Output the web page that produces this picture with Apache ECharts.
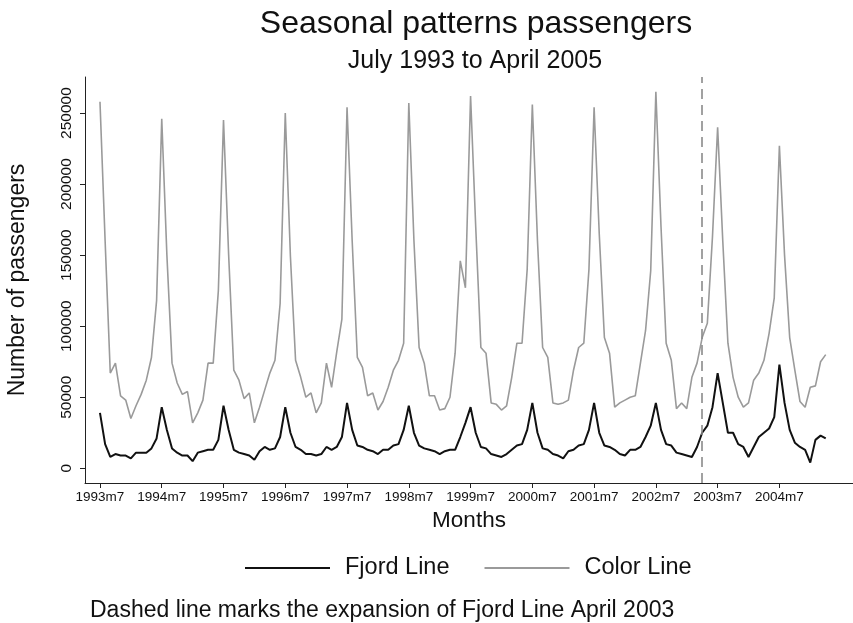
<!DOCTYPE html>
<html>
<head>
<meta charset="utf-8">
<script src="https://cdn.jsdelivr.net/npm/echarts@6/dist/echarts.min.js"></script>
<style>
html,body{margin:0;padding:0;background:#fff;}
#chart{width:853px;height:623px;}
</style>
</head>
<body>
<div id="chart"></div>
<script>
// Monthly series, July 1993 (index 0) to April 2005 (index 141), in thousands of passengers
const colorLine = [
  258,160,67,74,51,48,35,44,52,62,78,118,
  246,150,74,60,52,54,32,39,48,74,74,125,
  245,150,69,62,49,53,32,43,55,67,76,116,
  250,149,76,64,50,53,39,46,74,57,82,105,
  254,160,78,71,51,53,41,47,57,69,76,88,
  257,160,85,74,51,51,41,42,50,81,146,127,
  262,170,85,81,46,45,41,44,64,88,88,140,
  256,160,85,78,46,45,46,48,69,85,88,140,
  254,165,92,81,43,46,48,50,51,74,97,139,
  265,170,88,76,42,46,42,64,74,92,102,163,
  240,160,88,64,50,43,46,62,67,76,95,120,
  227,150,92,69,47,43,57,58,75,80
];
const fjordLine = [
  39,17,8,10,9,9,7,11,11,11,14,21,
  43,27,14,11,9,9,5,11,12,13,13,20,
  44,27,13,11,10,9,6,12,15,13,14,22,
  43,25,15,13,10,10,9,10,15,13,15,22,
  46,27,16,15,13,12,10,13,13,16,17,27,
  44,25,16,14,13,12,10,12,13,13,22,32,
  43,25,15,14,10,9,8,10,13,16,17,27,
  46,25,14,13,10,9,7,12,13,16,17,27,
  46,25,16,15,13,10,9,13,13,15,22,30,
  46,27,17,16,11,10,9,8,15,25,30,43,
  67,46,25,25,17,15,8,15,22,25,28,36,
  73,46,27,18,15,13,4,20,23,21
];
const tickLabels = ['1993m7','1994m7','1995m7','1996m7','1997m7','1998m7','1999m7','2000m7','2001m7','2002m7','2003m7','2004m7'];
const yTicks = [0,50000,100000,150000,200000,250000];
const expansionMonth = '2003m4';

// month names for each index
const months = [];
for (let i = 0; i < colorLine.length; i++) {
  const m = 7 + i;
  const y = 1993 + Math.floor((m - 1) / 12);
  const mm = ((m - 1) % 12) + 1;
  months.push(y + 'm' + mm);
}
const tickIdx = tickLabels.map(l => months.indexOf(l));
const expIdx = months.indexOf(expansionMonth);

const fjordData = fjordLine.map((v, i) => [i, v * 1000]);
const colorData = colorLine.map((v, i) => [i, v * 1000]);

const FONT = 'Liberation Sans, Arial, Helvetica, sans-serif';
const chart = echarts.init(document.getElementById('chart'), null, {renderer: 'canvas'});
chart.setOption({
  backgroundColor: '#fff',
  animation: false,
  title: [
    {text: 'Seasonal patterns passengers', left: 471, top: 3, textAlign: 'center',
     textStyle: {fontFamily: FONT, fontSize: 32, fontWeight: 'normal', color: '#111'}},
    {text: 'July 1993 to April 2005', left: 470, top: 44, textAlign: 'center',
     textStyle: {fontFamily: FONT, fontSize: 25, fontWeight: 'normal', color: '#111'}},
    {text: 'Dashed line marks the expansion of Fjord Line April 2003', left: 85, top: 594,
     textStyle: {fontFamily: FONT, fontSize: 23, fontWeight: 'normal', color: '#111'}}
  ],
  legend: {
    left: 240, top: 551, itemWidth: 85, itemHeight: 2, itemGap: 35, icon: 'rect',
    textStyle: {fontFamily: FONT, fontSize: 23.5, color: '#111', padding: [0, 0, 0, 10]},
    data: [
      {name: 'Fjord Line', itemStyle: {color: '#111'}},
      {name: 'Color Line', itemStyle: {color: '#9a9a9a'}}
    ]
  },
  grid: {left: 85, right: 0, top: 77, bottom: 140, containLabel: false, outerBoundsMode: 'none'},
  xAxis: {
    type: 'value', min: -2.91, max: 146.3,
    name: 'Months', nameLocation: 'middle', nameGap: 24,
    nameTextStyle: {fontFamily: FONT, fontSize: 22.5, color: '#111'},
    axisLine: {show: true, onZero: false, lineStyle: {color: '#222', width: 1}},
    axisTick: {show: true, length: 5, customValues: tickIdx, lineStyle: {color: '#222'}},
    axisLabel: {customValues: tickIdx, margin: 7, fontFamily: FONT, fontSize: 13.5, color: '#111',
      formatter: v => months[v] || ''},
    splitLine: {show: false}
  },
  yAxis: {
    type: 'value', min: -10350, max: 275350,
    name: 'Number of passengers', nameLocation: 'middle', nameGap: 56, nameRotate: 90,
    nameTextStyle: {fontFamily: FONT, fontSize: 23, color: '#111'},
    axisLine: {show: true, onZero: false, lineStyle: {color: '#222', width: 1}},
    axisTick: {show: true, length: 5, customValues: yTicks, lineStyle: {color: '#222'}},
    axisLabel: {customValues: yTicks, rotate: 90, margin: 10, fontFamily: FONT, fontSize: 15.5, color: '#111',
      formatter: v => String(v)},
    splitLine: {show: false}
  },
  series: [
    {name: 'Fjord Line', type: 'line', data: fjordData, symbol: 'none', z: 3,
     lineStyle: {color: '#111', width: 2}, itemStyle: {color: '#111'},
     markLine: {symbol: 'none', silent: true, label: {show: false},
       lineStyle: {color: '#8a8a8a', type: [10, 6], width: 1.6},
       data: [{xAxis: expIdx}]}},
    {name: 'Color Line', type: 'line', data: colorData, symbol: 'none', z: 2,
     lineStyle: {color: '#9a9a9a', width: 1.6}, itemStyle: {color: '#9a9a9a'}}
  ]
});
</script>
</body>
</html>
